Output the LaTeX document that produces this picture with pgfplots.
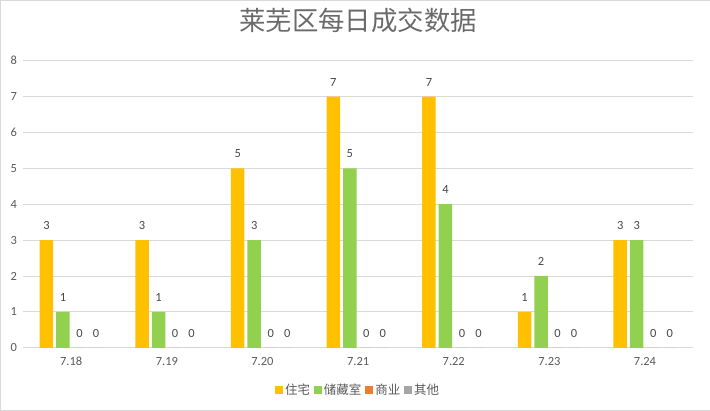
\documentclass[border=0pt]{standalone}
\usepackage{pgfplots}
\pgfplotsset{compat=1.18}
\usepackage{fontspec}
\setmainfont{Carlito}
\newfontfamily\cjk{Noto Sans CJK SC}

\definecolor{zhuzhai}{HTML}{FFC000}
\definecolor{chucang}{HTML}{92D050}
\definecolor{shangye}{HTML}{ED7D31}
\definecolor{qita}{HTML}{A5A5A5}
\definecolor{txt}{HTML}{595959}
\definecolor{gridc}{HTML}{D9D9D9}

\pgfplotstableread{
x zhuzhai chucang shangye qita
0 3 1 0 0
1 3 1 0 0
2 5 3 0 0
3 7 5 0 0
4 7 4 0 0
5 1 2 0 0
6 3 3 0 0
}\data

\begin{document}
\begin{tikzpicture}
\begin{axis}[
    at={(0,0)}, anchor=south west,
    scale only axis,
    width=669.3bp, height=287bp,
    xmin=-0.5, xmax=6.5,
    ymin=0, ymax=8,
    ybar=3bp, bar width=13.5bp,
    xtick={0,...,6},
    xticklabels={7.18,7.19,7.20,7.21,7.22,7.23,7.24},
    ytick={0,...,8},
    major tick length=0pt,
    axis line style={draw=none},
    ymajorgrids, grid style={gridc, line width=0.8pt},
    x tick label style={font=\fontsize{12.5}{14}\selectfont, text=txt, yshift=-6bp},
    y tick label style={font=\fontsize{12.5}{14}\selectfont, text=txt, xshift=-3bp},
    /pgf/number format/assume math mode=true,
    nodes near coords,
    every node near coord/.append style={font=\fontsize{12.5}{14}\selectfont, text=txt!80!black, yshift=7bp},
    title={\cjk 莱芜区每日成交数据},
    title style={font=\fontsize{26.5}{30}\selectfont, text=txt!90, yshift=18bp},
    legend columns=4,
    legend style={draw=none, fill=none, at={(0.5,-42bp)}, anchor=center,
        font=\cjk\fontsize{12.5}{14}\selectfont, text=txt,
        /tikz/every even column/.append style={column sep=2bp}},
    legend image code/.code={\fill[#1] (0bp,-4bp) rectangle (8bp,4bp);},
    clip=false,
]
\addplot[fill=zhuzhai, draw=none] table[x=x, y=zhuzhai] {\data};
\addplot[fill=chucang, draw=none] table[x=x, y=chucang] {\data};
\addplot[fill=shangye, draw=none] table[x=x, y=shangye] {\data};
\addplot[fill=qita, draw=none] table[x=x, y=qita] {\data};
\legend{住宅,储藏室,商业,其他}
\end{axis}
\draw[gridc] (-23.2bp,-62.5bp) rectangle (686.3bp,347.5bp);
\end{tikzpicture}
\end{document}
